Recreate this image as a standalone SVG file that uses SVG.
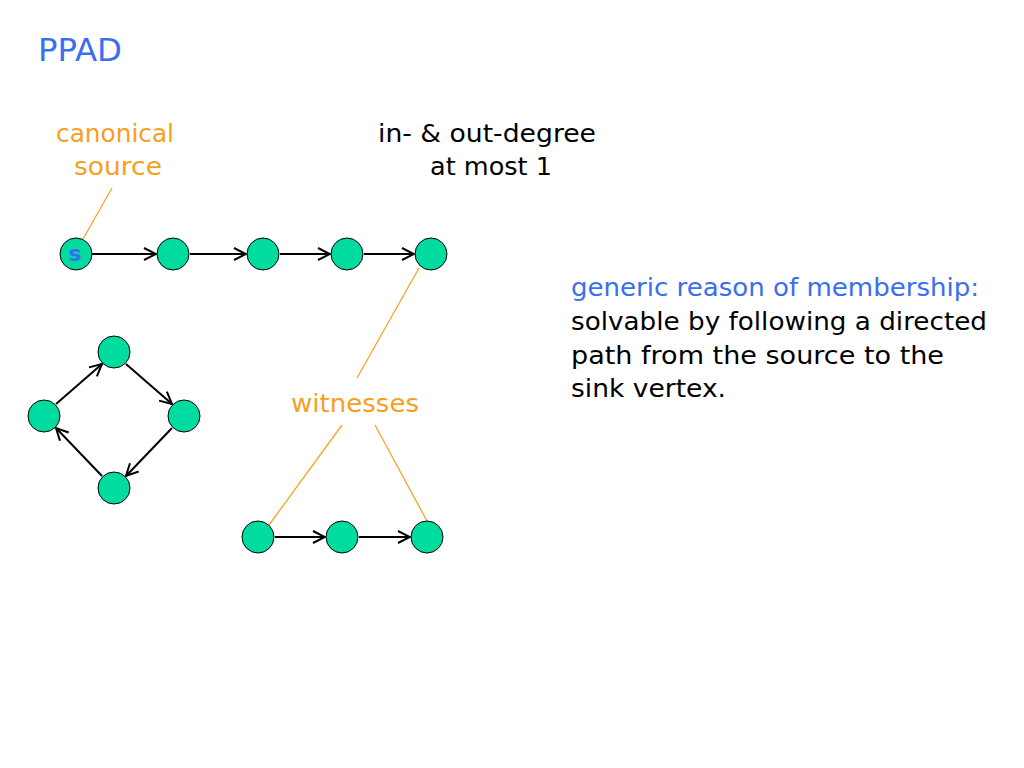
<svg xmlns="http://www.w3.org/2000/svg" width="1024" height="768" viewBox="0 0 1024 768">
<style>
text{font-family:"DejaVu Sans","Liberation Sans",sans-serif;}
.node{fill:#00dba0;stroke:#000;stroke-width:1}
.edge{stroke:#000;stroke-width:2;fill:none;marker-end:url(#arr)}
.lead{stroke:#f5a623;stroke-width:1.3;fill:none}
.orange{fill:#f5a01e;font-size:25px}
.black{fill:#000;font-size:25px}
.blue{fill:#3a6ef0}
</style>
<defs>
<marker id="arr" viewBox="0 0 14 14" refX="13" refY="7" markerWidth="14" markerHeight="14" markerUnits="userSpaceOnUse" orient="auto">
<path d="M1,1 L13,7 L1,13" fill="none" stroke="#000" stroke-width="2"/>
</marker>
</defs>
<rect width="1024" height="768" fill="#fff"/>
<text x="38" y="61" class="blue" font-size="32" textLength="84" lengthAdjust="spacingAndGlyphs">PPAD</text>
<text x="115" y="142" text-anchor="middle" class="orange" textLength="118" lengthAdjust="spacingAndGlyphs">canonical</text>
<text x="118" y="175" text-anchor="middle" class="orange" textLength="88" lengthAdjust="spacingAndGlyphs">source</text>
<text x="487" y="142" text-anchor="middle" class="black" textLength="218" lengthAdjust="spacingAndGlyphs">in- &amp; out-degree</text>
<text x="491" y="175" text-anchor="middle" class="black" textLength="122" lengthAdjust="spacingAndGlyphs">at most 1</text>
<text x="355" y="412" text-anchor="middle" class="orange" textLength="128" lengthAdjust="spacingAndGlyphs">witnesses</text>
<text x="571" y="296" class="blue" font-size="25" textLength="408" lengthAdjust="spacingAndGlyphs">generic reason of membership:</text>
<text x="571" y="330" class="black" textLength="416" lengthAdjust="spacingAndGlyphs">solvable by following a directed</text>
<text x="571" y="364" class="black" textLength="373" lengthAdjust="spacingAndGlyphs">path from the source to the</text>
<text x="571" y="397" class="black" textLength="155" lengthAdjust="spacingAndGlyphs">sink vertex.</text>
<g id="connectors">
<line class="edge" x1="92" y1="254" x2="156" y2="254"/>
<line class="edge" x1="190" y1="254" x2="246" y2="254"/>
<line class="edge" x1="280" y1="254" x2="330" y2="254"/>
<line class="edge" x1="364" y1="254" x2="414" y2="254"/>
<line class="edge" x1="126" y1="364" x2="172" y2="404"/>
<line class="edge" x1="172" y1="428" x2="126" y2="476"/>
<line class="edge" x1="102" y1="476" x2="56" y2="428"/>
<line class="edge" x1="56" y1="404" x2="102" y2="364"/>
<line class="edge" x1="275" y1="537" x2="325" y2="537"/>
<line class="edge" x1="359" y1="537" x2="410" y2="537"/>
<line class="lead" x1="112" y1="188" x2="83" y2="239"/>
<line class="lead" x1="419" y1="268" x2="357" y2="378"/>
<line class="lead" x1="342" y1="425" x2="269" y2="525"/>
<line class="lead" x1="375" y1="425" x2="427" y2="521"/>
</g>
<g id="n-s"><circle class="node" cx="76" cy="254" r="16"/><text x="75" y="261" text-anchor="middle" class="blue" font-size="22" font-weight="bold">s</text></g>
<g id="n-a2"><circle class="node" cx="173" cy="254" r="16"/></g>
<g id="n-a3"><circle class="node" cx="263" cy="254" r="16"/></g>
<g id="n-a4"><circle class="node" cx="347" cy="254" r="16"/></g>
<g id="n-a5"><circle class="node" cx="431" cy="254" r="16"/></g>
<g id="n-c-top"><circle class="node" cx="114" cy="352" r="16"/></g>
<g id="n-c-right"><circle class="node" cx="184" cy="416" r="16"/></g>
<g id="n-c-bottom"><circle class="node" cx="114" cy="488" r="16"/></g>
<g id="n-c-left"><circle class="node" cx="44" cy="416" r="16"/></g>
<g id="n-b1"><circle class="node" cx="258" cy="537" r="16"/></g>
<g id="n-b2"><circle class="node" cx="342" cy="537" r="16"/></g>
<g id="n-b3"><circle class="node" cx="427" cy="537" r="16"/></g>
</svg>
